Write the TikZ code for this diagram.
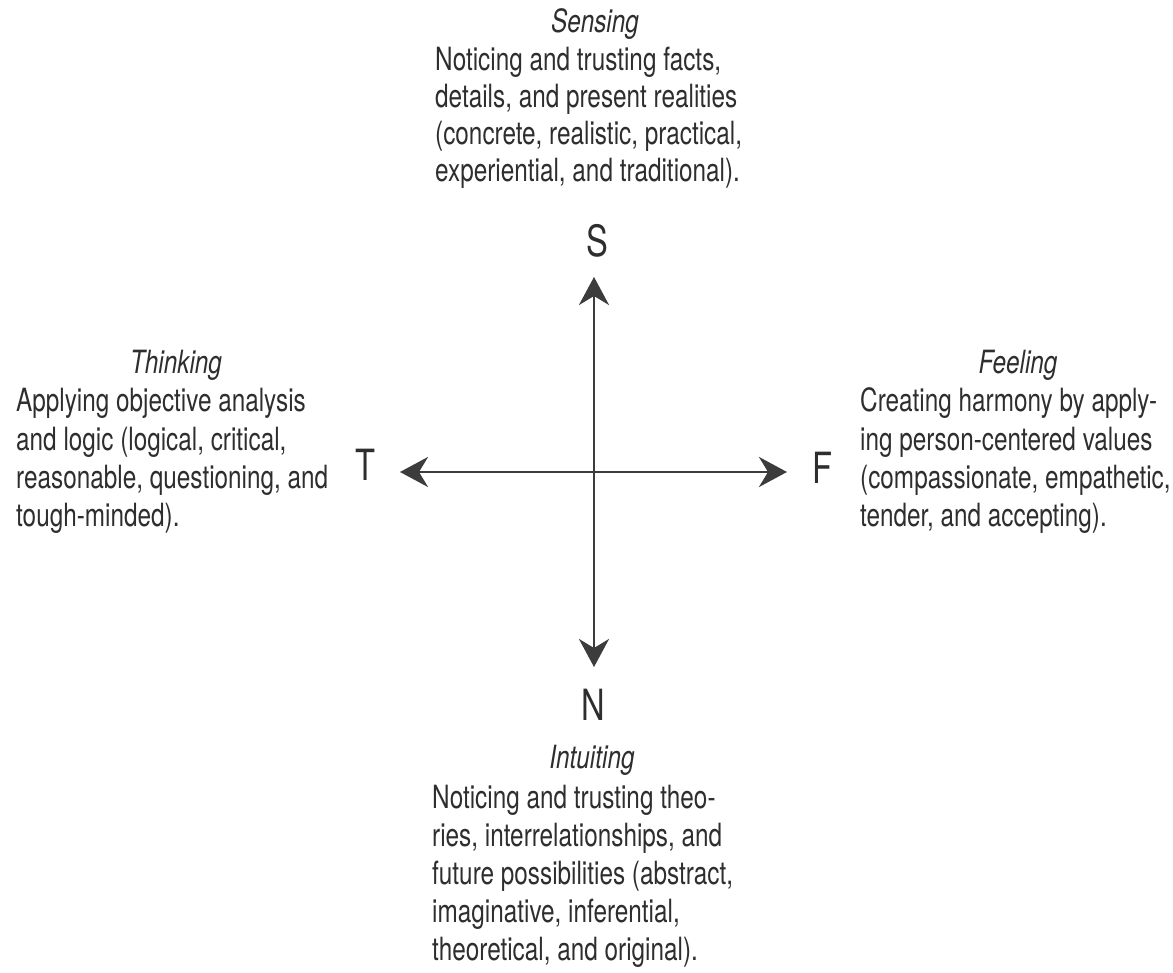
\documentclass[tikz,border=0pt]{standalone}
\usepackage{fontspec}
\setmainfont{TeX Gyre Heros}[FakeStretch=0.76]
\usetikzlibrary{arrows.meta}
\definecolor{ink}{HTML}{2E2E2E}
\definecolor{axis}{HTML}{3C3C3C}
\begin{document}
\begin{tikzpicture}[x=1pt,y=-1pt,
  txt/.style={inner sep=0pt,anchor=base west,text=ink,font=\fontsize{32}{38}\selectfont},
  ttl/.style={inner sep=0pt,anchor=base,text=ink,font=\fontsize{32}{38}\selectfont\itshape},
  pole/.style={inner sep=0pt,anchor=base,text=ink,font=\fontsize{43}{48}\selectfont},
  axisline/.style={draw=axis,line width=2.8pt,{Stealth[length=28pt,width=30pt,inset=9pt]}-{Stealth[length=28pt,width=30pt,inset=9pt]}}]
\useasboundingbox[fill=white] (0,0) rectangle (1173,973);
% axes
\coordinate (top) at (594,277);
\coordinate (bot) at (594,667);
\coordinate (lft) at (400,472);
\coordinate (rgt) at (787,472);
\draw[axisline] (top) -- (bot);
\draw[axisline] (lft) -- (rgt);
% pole letters
\node[pole] (S) at (597,257) {S};
\node[pole] (N) at (593,720) {N};
\node[pole] (T) at (365,480) {T};
\node[pole] (F) at (822,483) {F};
% Sensing
\node[ttl] (st) at (595,33) {Sensing};
\node[txt] (s1) at (435,71) {Noticing and trusting facts,};
\node[txt] (s2) at (435,108) {details, and present realities};
\node[txt] (s3) at (435,145) {(concrete, realistic, practical,};
\node[txt] (s4) at (435,182) {experiential, and traditional).};
% Thinking
\node[ttl] (tt) at (176,374) {Thinking};
\node[txt] (t1) at (16,412) {Applying objective analysis};
\node[txt] (t2) at (16,450) {and logic (logical, critical,};
\node[txt] (t3) at (16,488) {reasonable, questioning, and};
\node[txt] (t4) at (16,526) {tough-minded).};
% Feeling
\node[ttl] (ft) at (1018,374) {Feeling};
\node[txt] (f1) at (860,412) {Creating harmony by apply-};
\node[txt] (f2) at (860,450) {ing person-centered values};
\node[txt] (f3) at (860,488) {(compassionate, empathetic,};
\node[txt] (f4) at (860,526) {tender, and accepting).};
% Intuiting
\node[ttl] (it) at (592,768) {Intuiting};
\node[txt] (i1) at (432,808) {Noticing and trusting theo-};
\node[txt] (i2) at (432,846) {ries, interrelationships, and};
\node[txt] (i3) at (432,884) {future possibilities (abstract,};
\node[txt] (i4) at (432,922) {imaginative, inferential,};
\node[txt] (i5) at (432,960) {theoretical, and original).};
\end{tikzpicture}
\end{document}
